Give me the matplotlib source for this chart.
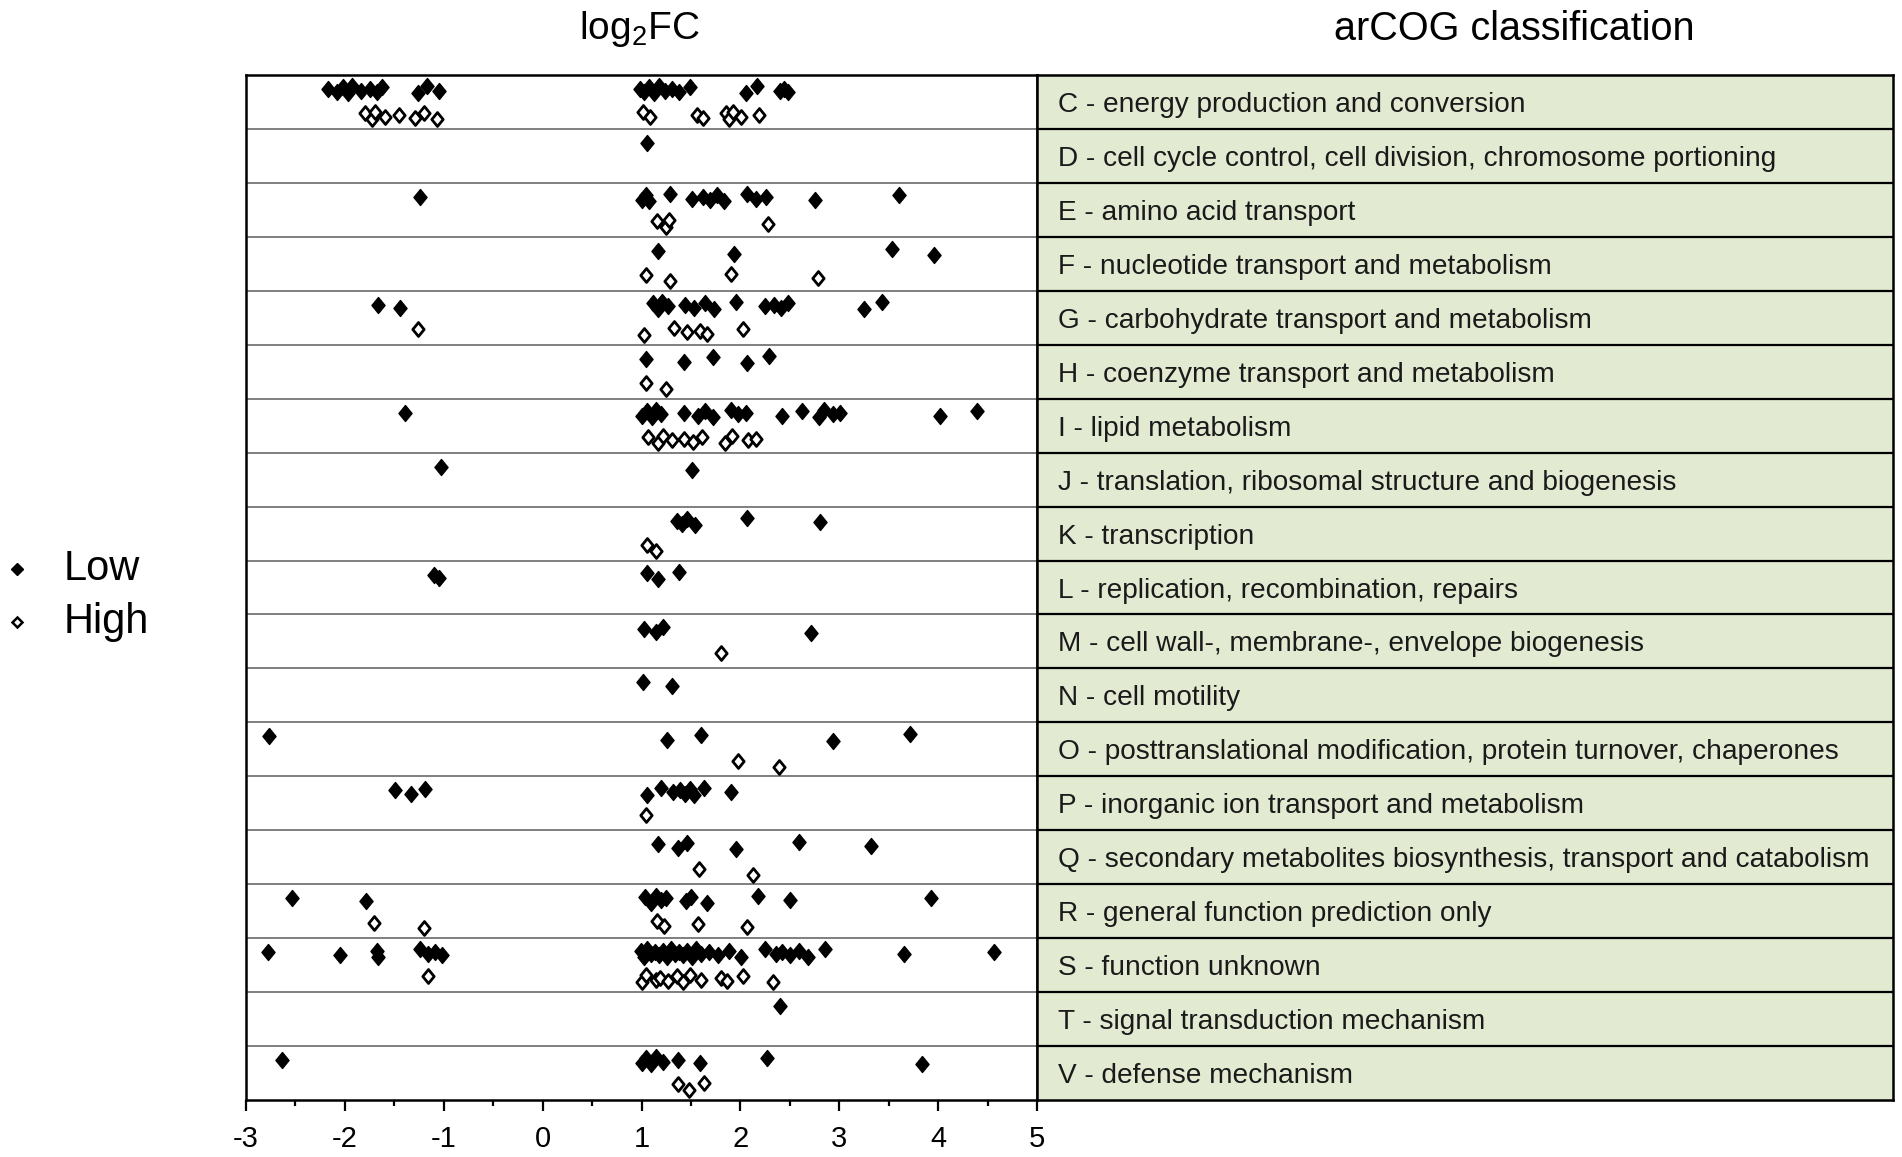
import matplotlib
matplotlib.use("Agg")
import matplotlib.pyplot as plt
from matplotlib.patches import Rectangle
from matplotlib.path import Path

plt.rcParams['font.family'] = ['Liberation Sans', 'DejaVu Sans']
plt.rcParams['mathtext.fontset'] = 'custom'
plt.rcParams['mathtext.rm'] = 'Liberation Sans'
plt.rcParams['axes.unicode_minus'] = False

# arCOG categories (top to bottom)
categories = ["C - energy production and conversion",
              "D - cell cycle control, cell division, chromosome portioning",
              "E - amino acid transport",
              "F - nucleotide transport and metabolism",
              "G - carbohydrate transport and metabolism",
              "H - coenzyme transport and metabolism",
              "I - lipid metabolism",
              "J - translation, ribosomal structure and biogenesis",
              "K - transcription",
              "L - replication, recombination, repairs",
              "M - cell wall-, membrane-, envelope biogenesis",
              "N - cell motility",
              "O - posttranslational modification, protein turnover, chaperones",
              "P - inorganic ion transport and metabolism",
              "Q - secondary metabolites biosynthesis, transport and catabolism",
              "R - general function prediction only",
              "S - function unknown",
              "T - signal transduction mechanism",
              "V - defense mechanism"]

# log2FC values, "Low" condition
low = [
    [-2.17, -2.08, -2.02, -1.97, -1.93, -1.84, -1.75, -1.68, -1.62, -1.26, -1.17, -1.05,
     0.98, 1.03, 1.08, 1.13, 1.18, 1.24, 1.31, 1.38, 1.49, 2.06, 2.17, 2.40, 2.44, 2.48],
    [1.06],
    [-1.24, 1.01, 1.05, 1.08, 1.29, 1.51, 1.62, 1.69, 1.76, 1.83, 2.07, 2.16, 2.26, 2.75, 3.60],
    [1.17, 1.94, 3.53, 3.96],
    [-1.66, -1.44, 1.12, 1.17, 1.21, 1.27, 1.44, 1.53, 1.64, 1.73, 1.96, 2.25, 2.34, 2.41,
     2.48, 3.25, 3.43],
    [1.05, 1.43, 1.72, 2.07, 2.29],
    [-1.39, 1.01, 1.06, 1.11, 1.15, 1.20, 1.43, 1.57, 1.64, 1.72, 1.91, 1.98, 2.06, 2.42,
     2.62, 2.80, 2.85, 2.94, 3.01, 4.02, 4.39],
    [-1.03, 1.51],
    [1.36, 1.41, 1.46, 1.54, 2.07, 2.81],
    [-1.10, -1.05, 1.06, 1.17, 1.38],
    [1.03, 1.15, 1.22, 2.71],
    [1.02, 1.31],
    [-2.77, 1.26, 1.60, 2.94, 3.72],
    [-1.49, -1.33, -1.19, 1.06, 1.20, 1.32, 1.39, 1.44, 1.49, 1.53, 1.63, 1.91],
    [1.17, 1.37, 1.46, 1.96, 2.59, 3.32],
    [-2.53, -1.79, 1.04, 1.10, 1.15, 1.20, 1.25, 1.45, 1.50, 1.66, 2.18, 2.50, 3.93],
    [-2.78, -2.05, -1.68, -1.66, -1.24, -1.16, -1.09, -1.02, 0.99, 1.03, 1.06, 1.10, 1.14,
     1.18, 1.22, 1.26, 1.30, 1.34, 1.38, 1.42, 1.46, 1.51, 1.55, 1.60, 1.68, 1.77, 1.89,
     2.01, 2.25, 2.36, 2.42, 2.50, 2.59, 2.68, 2.86, 3.65, 4.57],
    [2.40],
    [-2.64, 1.00, 1.05, 1.10, 1.15, 1.22, 1.37, 1.59, 2.27, 3.84],
]

# log2FC values, "High" condition
high = [
    [-1.80, -1.73, -1.70, -1.59, -1.45, -1.29, -1.20, -1.07, 1.02, 1.09, 1.56, 1.62, 1.85,
     1.89, 1.93, 2.01, 2.19],
    [],
    [1.16, 1.25, 1.28, 2.28],
    [1.05, 1.29, 1.91, 2.79],
    [-1.26, 1.03, 1.33, 1.46, 1.59, 1.66, 2.03],
    [1.05, 1.25],
    [1.07, 1.17, 1.22, 1.31, 1.43, 1.52, 1.61, 1.84, 1.92, 2.08, 2.16],
    [],
    [1.06, 1.15],
    [],
    [1.80],
    [],
    [1.98, 2.39],
    [1.05],
    [1.58, 2.13],
    [-1.71, -1.20, 1.16, 1.23, 1.57, 2.07],
    [-1.16, 1.00, 1.05, 1.15, 1.19, 1.27, 1.36, 1.42, 1.49, 1.60, 1.80, 1.86, 2.03, 2.33],
    [],
    [1.37, 1.48, 1.63],
]

xticks = [-3, -2, -1, 0, 1, 2, 3, 4, 5]

# small fixed vertical scatter so overlapping diamonds stay visible
jit = [0.0, 0.06, -0.03, 0.08, -0.05, 0.03]

# slightly tall diamond
diamond = Path([(0, 1), (0.82, 0), (0, -1), (-0.82, 0), (0, 1)],
               [Path.MOVETO, Path.LINETO, Path.LINETO, Path.LINETO, Path.CLOSEPOLY])

fig = plt.figure(figsize=(19.02, 11.57), dpi=100)
W, H = 1902, 1157
ax = fig.add_axes([246 / W, 1 - 1100 / H, (1037 - 246) / W, (1100 - 75) / H])
ax2 = fig.add_axes([1037 / W, 1 - 1100 / H, (1893 - 1037) / W, (1100 - 75) / H])

n = len(categories)
for i in range(n):
    ylo = [i + 0.26 + jit[k % len(jit)] for k in range(len(low[i]))]
    ax.plot(low[i], ylo, ls='none', marker=diamond, ms=11.5, mfc='black', mec='black',
            mew=1.0, zorder=3)
    if high[i]:
        yhi = [i + 0.74 + jit[(k + 2) % len(jit)] for k in range(len(high[i]))]
        ax.plot(high[i], yhi, ls='none', marker=diamond, ms=10, mfc='white', mec='black',
                mew=2.0, zorder=3)

ax.set_xlim(-3, 5)
ax.set_ylim(n, 0)
ax.set_yticks([])
ax.set_xticks(xticks)
ax.set_xticks([v + 0.5 for v in xticks[:-1]], minor=True)
ax.tick_params(axis='x', which='major', direction='out', length=8, width=1.6,
               labelsize=21, pad=10)
ax.tick_params(axis='x', which='minor', direction='out', length=4.5, width=1.6)
for i in range(1, n):
    ax.axhline(i, color='#7f7f7f', lw=1.4, zorder=1)
for s in ax.spines.values():
    s.set_linewidth(1.8)
    s.set_color('black')

# right panel with category names
ax2.set_xlim(0, 1)
ax2.set_ylim(n, 0)
ax2.set_xticks([])
ax2.set_yticks([])
ax2.add_patch(Rectangle((0, 0), 1, n, color='#e2ead2', zorder=0))
for i in range(1, n):
    ax2.axhline(i, color='black', lw=1.6, zorder=1)
for i, c in enumerate(categories):
    ax2.text(0.024, i + 0.5, c, fontsize=20.2, va='center_baseline', ha='left',
             color='#1a1a1a')
for s in ax2.spines.values():
    s.set_linewidth(1.8)

fig.text(639 / W, 1 - 29 / H, r'log$_{\mathregular{2}}$FC', fontsize=28, ha='center', va='center')
fig.text(1514 / W, 1 - 29 / H, 'arCOG classification', fontsize=28.5, ha='center', va='center')

# legend
fig.text(64 / W, 1 - 569 / H, 'Low', fontsize=30, ha='left', va='center')
fig.text(64 / W, 1 - 622 / H, 'High', fontsize=30, ha='left', va='center')
fig.lines.append(plt.Line2D([17 / W], [1 - 569 / H], transform=fig.transFigure, ls='none',
                            marker='D', ms=6.5, mfc='black', mec='black'))
fig.lines.append(plt.Line2D([17 / W], [1 - 622 / H], transform=fig.transFigure, ls='none',
                            marker='D', ms=5.5, mfc='white', mec='black', mew=1.8))

fig.savefig('out.png', dpi=100)
